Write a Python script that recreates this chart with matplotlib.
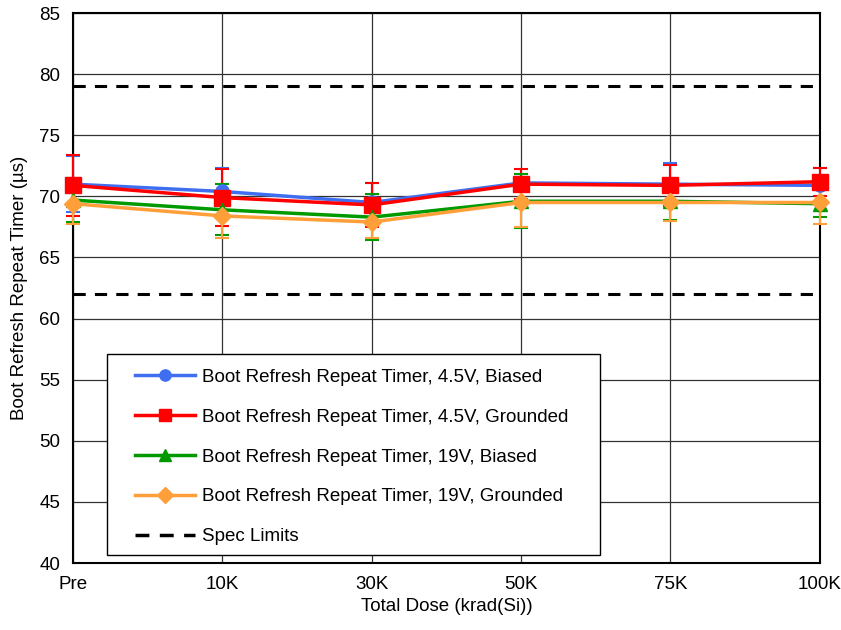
import matplotlib
matplotlib.use("Agg")
import matplotlib.pyplot as plt
from matplotlib.lines import Line2D
from matplotlib.patches import Rectangle
import numpy as np

plt.rcParams['font.family'] = ['Liberation Sans', 'DejaVu Sans']

doses = ['Pre', '10K', '30K', '50K', '75K', '100K']

b45 = [71.0, 70.4, 69.5, 71.1, 71.0, 70.9]
b45_err = [2.3, 1.9, 1.6, 0.7, 1.7, 1.4]
g45 = [70.9, 69.9, 69.3, 71.0, 70.9, 71.2]
g45_err = [2.5, 2.3, 1.8, 1.2, 1.7, 1.15]
b19 = [69.7, 68.9, 68.3, 69.6, 69.6, 69.4]
b19_err = [1.8, 2.1, 1.9, 2.2, 1.5, 1.1]
g19 = [69.4, 68.4, 67.9, 69.5, 69.5, 69.5]
g19_err = [1.7, 1.8, 1.3, 2.0, 1.5, 1.8]

spec_hi = 79
spec_lo = 62

series = [
    ('Boot Refresh Repeat Timer, 4.5V, Biased', b45, b45_err, '#3f6ff0', 'o', 9.5),
    ('Boot Refresh Repeat Timer, 4.5V, Grounded', g45, g45_err, '#ff0000', 's', 11),
    ('Boot Refresh Repeat Timer, 19V, Biased', b19, b19_err, '#009a00', '^', 9.5),
    ('Boot Refresh Repeat Timer, 19V, Grounded', g19, g19_err, '#ff9f3a', 'D', 9),
]
FS = 13.5

fig = plt.figure(figsize=(8.41, 6.3), dpi=100)
ax = fig.add_axes([0.0868, 0.1063, 0.888, 0.873])
x = np.arange(len(doses))

handles = []
for label, vals, err, color, mk, ms in series:
    cont = ax.errorbar(x, vals, yerr=err, color=color, marker=mk, markersize=ms,
                       linewidth=2.5, elinewidth=1.5, capsize=5, capthick=1.5,
                       zorder=3)
    for art in cont.get_children():
        art.set_clip_on(False)
    handles.append(Line2D([], [], color=color, marker=mk, markersize=ms * 0.85,
                          linewidth=2.5, label=label))

dash = (0, (4, 3))
ax.plot(x, [spec_hi] * len(x), color='black', linestyle=dash, linewidth=2.2, zorder=2)
ax.plot(x, [spec_lo] * len(x), color='black', linestyle=dash, linewidth=2.2, zorder=2)
handles.append(Line2D([], [], color='black', linestyle=dash, linewidth=2.5,
                      label='Spec Limits'))

ax.set_xlim(0, len(doses) - 1)
ax.set_ylim(40, 85)
ax.set_yticks(np.arange(40, 86, 5))
ax.set_xticks(x)
ax.set_xticklabels(doses)
ax.tick_params(labelsize=FS, length=0, pad=9)
ax.grid(True, color='#333333', linewidth=0.9)
ax.set_axisbelow(True)
for s in ax.spines.values():
    s.set_color('black')
    s.set_linewidth(1.5)

ax.set_xlabel('Total Dose (krad(Si))', fontsize=FS, labelpad=4)
ax.set_ylabel('Boot Refresh Repeat Timer (µs)', fontsize=FS, labelpad=8)

# legend box drawn separately so the padding matches the original
ax.add_patch(Rectangle((0.0455, 0.0145), 0.66, 0.3655, transform=ax.transAxes,
                       facecolor='white', edgecolor='black', linewidth=1.0, zorder=4))
leg = ax.legend(handles=handles, loc='upper left', bbox_to_anchor=(0.083, 0.353),
                borderaxespad=0, borderpad=0, fontsize=FS, frameon=False,
                handlelength=3.2, labelspacing=1.21, handletextpad=0.4)
leg.set_zorder(5)

fig.savefig('out.png', dpi=100)
